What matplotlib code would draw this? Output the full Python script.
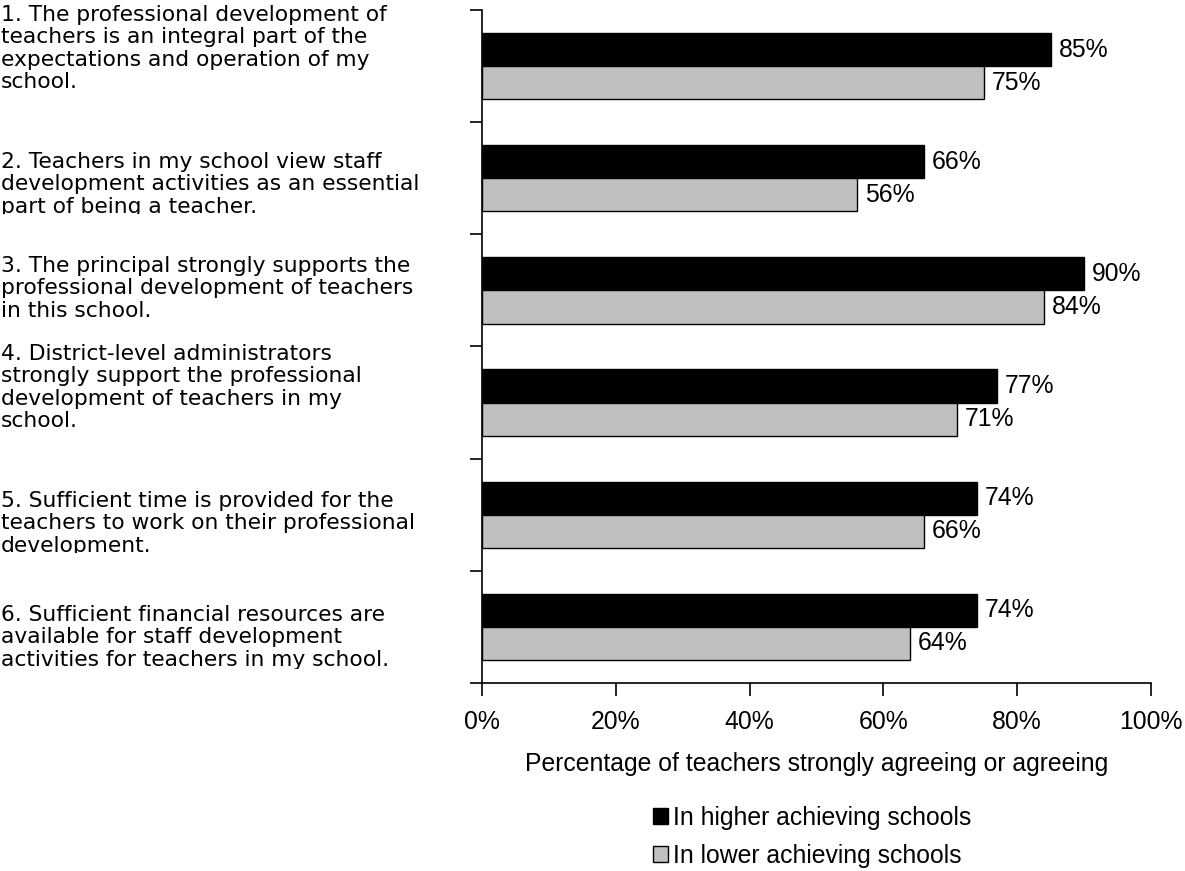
import matplotlib
matplotlib.use("Agg")
import matplotlib.pyplot as plt
from matplotlib.patches import Patch
from matplotlib.ticker import FuncFormatter
from matplotlib.transforms import Bbox

plt.rcParams['font.family'] = ['Liberation Sans', 'DejaVu Sans']

statements = [
    "1. The professional development of\nteachers is an integral part of the\nexpectations and operation of my\nschool.",
    "2. Teachers in my school view staff\ndevelopment activities as an essential\npart of being a teacher.",
    "3. The principal strongly supports the\nprofessional development of teachers\nin this school.",
    "4. District-level administrators\nstrongly support the professional\ndevelopment of teachers in my\nschool.",
    "5. Sufficient time is provided for the\nteachers to work on their professional\ndevelopment.",
    "6. Sufficient financial resources are\navailable for staff development\nactivities for teachers in my school.",
]
higher = [85, 66, 90, 77, 74, 74]
lower = [75, 56, 84, 71, 66, 64]
series_names = ["In higher achieving schools", "In lower achieving schools"]
xticks = [0, 20, 40, 60, 80, 100]
xlabel = "Percentage of teachers strongly agreeing or agreeing"

W, H = 1185, 871
fig = plt.figure(figsize=(W / 100, H / 100), dpi=100)
ax = fig.add_axes([482 / W, 1 - 683 / H, (1151 - 482) / W, (683 - 10) / H])

fs = 17.8
n = len(statements)
bh = 0.295
pos = list(range(n))
ax.barh([p - bh / 2 for p in pos], higher, height=bh, color='black',
        edgecolor='black', linewidth=1)
ax.barh([p + bh / 2 for p in pos], lower, height=bh, color='#C0C0C0',
        edgecolor='black', linewidth=1)

for p, v in zip(pos, higher):
    ax.text(v + 1.2, p - bh / 2, f"{v}%", va='center', ha='left', fontsize=fs)
for p, v in zip(pos, lower):
    ax.text(v + 1.2, p + bh / 2, f"{v}%", va='center', ha='left', fontsize=fs)

ax.set_xlim(0, 100)
ax.set_ylim(n - 0.5, -0.5)
ax.set_xticks(xticks)
ax.xaxis.set_major_formatter(FuncFormatter(lambda v, _: f"{int(v)}%"))
ax.set_yticks([i - 0.5 for i in range(n + 1)])
ax.set_yticklabels([])
ax.tick_params(axis='both', direction='out', length=9, width=1.2, labelsize=fs)
ax.tick_params(axis='x', pad=10.4)
for s in ['top', 'right']:
    ax.spines[s].set_visible(False)
for s in ['left', 'bottom']:
    ax.spines[s].set_linewidth(1.2)
ax.set_xlabel(xlabel, fontsize=fs, labelpad=13)

# statement labels: fit font size so the first line is ~385 px wide
lab_family = ['DejaVu Sans']
renderer = fig.canvas.get_renderer()
probe = fig.text(0, 0, statements[0].split("\n")[0], fontsize=15,
                 family=lab_family)
wpx = probe.get_window_extent(renderer).width
probe.remove()
lfs = 15 * 385.0 / wpx

first_baseline = [21, 168, 272, 360, 507, 621]
clip_bottom = [None, 214, None, None, 553, 669]
step = 22.4
for txt, y, cb in zip(statements, first_baseline, clip_bottom):
    for k, line in enumerate(txt.split("\n")):
        t = fig.text(1 / W, 1 - (y + k * step) / H, line, ha='left',
                     va='baseline', fontsize=lfs, family=lab_family)
        if cb is not None:
            t.set_clip_box(Bbox.from_extents(0, H - cb, 480, H))
            t.set_clip_on(True)

handles = [Patch(facecolor='black', edgecolor='black'),
           Patch(facecolor='#C0C0C0', edgecolor='black')]
fig.legend(handles, series_names, loc='upper left',
           bbox_to_anchor=(653 / W, 1 - 806 / H), frameon=False, fontsize=fs,
           handlelength=0.6, handleheight=0.6, handletextpad=0.22,
           labelspacing=0.56, borderaxespad=0, borderpad=0)

fig.savefig("out.png", dpi=100)
